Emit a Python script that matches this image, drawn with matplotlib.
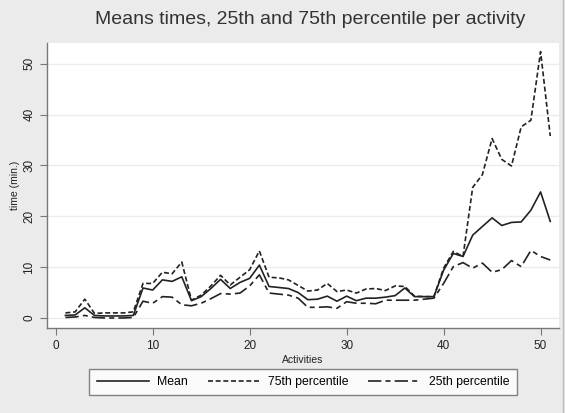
import matplotlib
matplotlib.use("Agg")
import matplotlib.pyplot as plt
from matplotlib.lines import Line2D
import numpy as np

plt.rcParams["font.family"] = ["Liberation Sans", "DejaVu Sans"]

# Activity index and per-activity times (minutes)
activities = np.arange(1, 52)

mean_time = [
    0.5, 0.6, 2.0, 0.5, 0.4, 0.4, 0.4, 0.5, 5.9, 5.5,
    7.5, 7.2, 8.1, 3.4, 4.2, 5.8, 7.6, 5.8, 7.0, 7.8,
    10.4, 6.2, 6.0, 5.8, 5.0, 3.6, 3.7, 4.3, 3.3, 4.3,
    3.4, 3.9, 3.9, 4.1, 4.4, 5.9, 4.2, 4.2, 4.2, 9.4,
    12.7, 12.1, 16.3, 18.0, 19.7, 18.2, 18.8, 18.9, 21.2, 24.8,
    19.0,
]
p75_time = [
    1.0, 1.2, 3.7, 0.9, 1.0, 1.0, 1.0, 1.2, 6.8, 6.8,
    9.0, 8.7, 11.0, 3.5, 4.5, 6.3, 8.4, 6.5, 8.0, 9.5,
    13.2, 8.0, 7.9, 7.5, 6.4, 5.3, 5.5, 6.8, 5.2, 5.5,
    4.9, 5.7, 5.8, 5.4, 6.3, 6.2, 4.3, 4.2, 4.2, 9.8,
    13.1, 12.1, 25.7, 28.2, 35.3, 31.2, 29.9, 37.6, 38.9, 52.4,
    35.8,
]
p25_time = [
    0.1, 0.2, 0.5, 0.1, 0.0, 0.0, 0.0, 0.1, 3.3, 2.9,
    4.2, 4.1, 2.6, 2.4, 2.9, 3.8, 4.8, 4.7, 4.9, 6.3,
    8.5, 4.9, 4.7, 4.5, 3.9, 2.1, 2.1, 2.2, 1.9, 3.2,
    2.9, 2.9, 2.8, 3.5, 3.5, 3.5, 3.5, 3.7, 3.9, 6.8,
    10.1, 10.9, 9.8, 10.8, 9.0, 9.5, 11.3, 10.1, 13.3, 12.1,
    11.4,
]

x_ticks = [0, 10, 20, 30, 40, 50]
y_ticks = [0, 10, 20, 30, 40, 50]

bg = "#ebebeb"
ink = "#222222"
axis_col = "#777777"

fig = plt.figure(figsize=(5.65, 4.13), dpi=100, facecolor=bg)
ax = fig.add_axes([47 / 565, 1 - 328 / 413, (559 - 47) / 565, (328 - 43) / 413])
ax.set_facecolor("white")

ax.plot(activities, mean_time, color=ink, lw=1.2, ls="-", label="Mean")
ax.plot(activities, p75_time, color=ink, lw=1.2, ls=(0, (3, 1.6)), label="75th percentile")
ax.plot(activities, p25_time, color=ink, lw=1.2, ls=(0, (8, 2.5, 3, 2.5)), label="25th percentile")

ax.set_xlim(-0.9, 51.9)
ax.set_ylim(-1.97, 54.1)
ax.set_xticks(x_ticks)
ax.set_yticks(y_ticks)
ax.grid(axis="y", color="#ececec", lw=1.0)
ax.set_axisbelow(True)

for side in ("top", "right"):
    ax.spines[side].set_visible(False)
for side in ("left", "bottom"):
    ax.spines[side].set_color(axis_col)
    ax.spines[side].set_linewidth(1.0)

ax.tick_params(axis="both", direction="out", length=5, color=axis_col,
               labelsize=8.5, labelcolor=ink)
plt.setp(ax.get_yticklabels(), rotation=90, va="center")

ax.set_xlabel("Activities", fontsize=7.5, color=ink, labelpad=2)
ax.set_ylabel("time (min.)", fontsize=7.5, color=ink, labelpad=2)

fig.text(310 / 565, 1 - 20 / 413, "Means times, 25th and 75th percentile per activity",
         ha="center", va="center", fontsize=14, color="#333333")

# thin outer border on the right edge of the graph region
fig.add_artist(Line2D([563 / 565, 563 / 565], [0, 1], transform=fig.transFigure,
                      color="#bbbbbb", lw=1.0))

leg = fig.legend(loc="center", bbox_to_anchor=((92 + 514) / 2 / 565, 1 - 382 / 413),
                 ncol=3, frameon=True, fancybox=False, fontsize=8.8,
                 handlelength=4.3, columnspacing=1.6, handletextpad=0.65,
                 borderpad=0.6)
leg.get_frame().set_edgecolor("#666666")
leg.get_frame().set_linewidth(1.0)
leg.get_frame().set_facecolor("white")
for line in leg.get_lines():
    line.set_linewidth(1.2)

fig.savefig("out.png", dpi=100, facecolor=bg)
